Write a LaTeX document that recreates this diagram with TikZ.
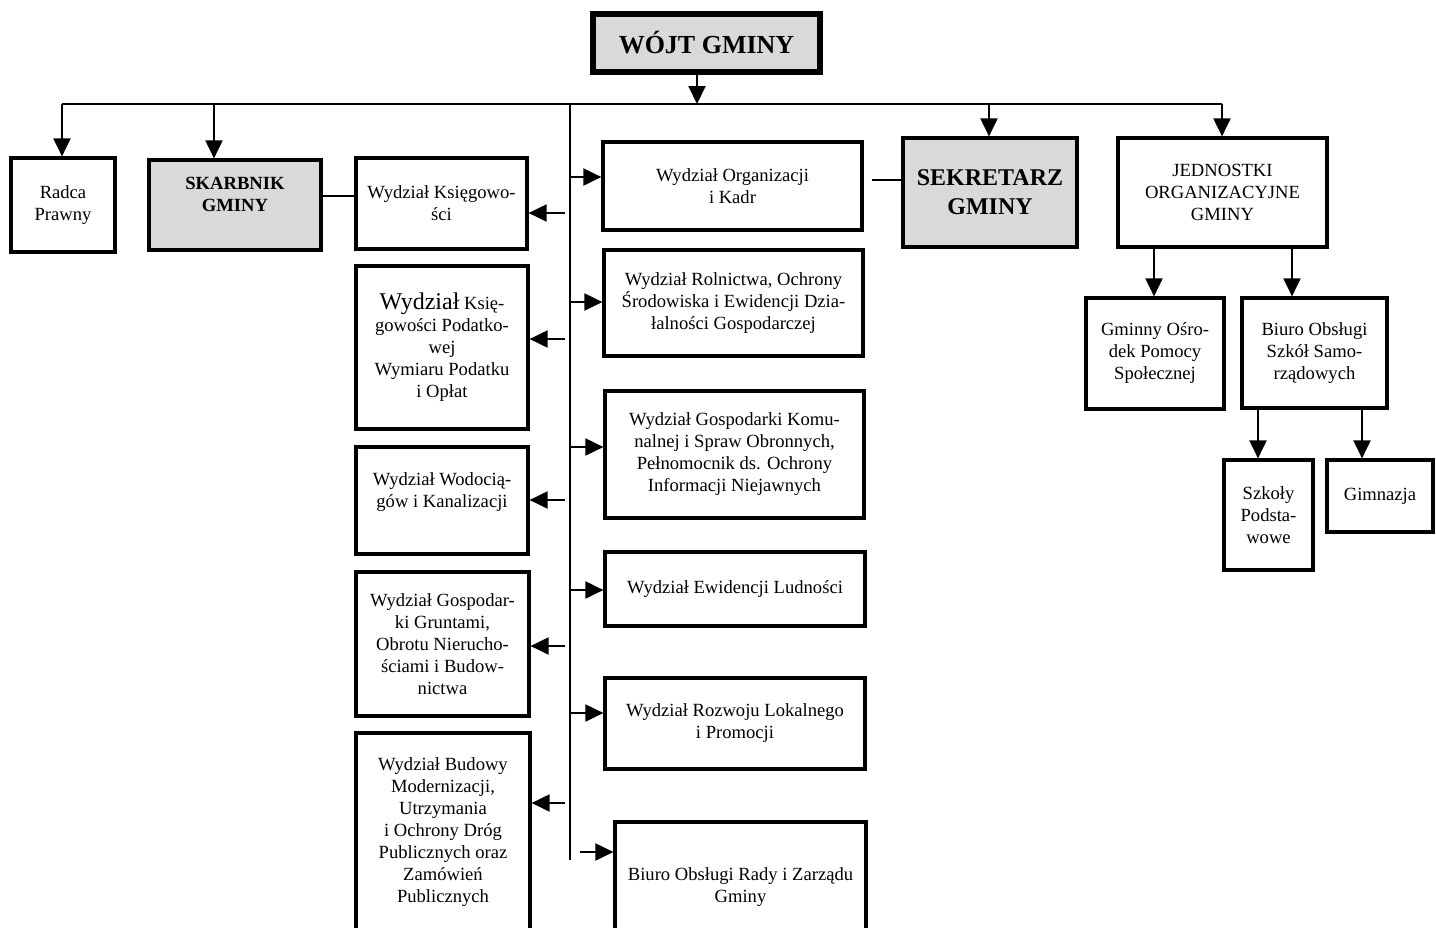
\documentclass[tikz,border=0pt]{standalone}
\usepackage{fontspec}
\setmainfont{Liberation Serif}
\usetikzlibrary{arrows.meta,calc}

\tikzset{
  box/.style={draw, line width=1.6pt, align=center, inner sep=2pt,
    font=\fontsize{9.3}{11}\selectfont},
  headbox/.style={box, fill=black!15},
  arr/.style={-{Triangle[length=9pt,width=8.5pt]}, line width=1pt},
  link/.style={line width=1pt}
}

\begin{document}
\begin{tikzpicture}[x=0.5pt,y=-0.5pt]

\path[fill=white, use as bounding box] (0,0) rectangle (1436,927);

% Head of the office
\node[headbox, line width=2.6pt, minimum width=113.5pt, minimum height=29pt,
  font=\fontsize{13}{15}\selectfont\bfseries] (wojt) at (706.5,43) {WÓJT GMINY};

% First row
\node[box, minimum width=52pt, minimum height=47pt] (radca) at (63,205) {Radca\\Prawny};
\node[headbox, minimum width=86pt, minimum height=45pt,
  font=\fontsize{9.3}{11}\selectfont\bfseries] (skarbnik) at (235,205) {SKARBNIK\\GMINY\\[-0.5pt]\mbox{}};
\node[headbox, minimum width=87pt, minimum height=54.5pt,
  font=\fontsize{12}{14.5}\selectfont\bfseries] (sekr) at (990,192.5) {SEKRETARZ\\GMINY};
\node[box, minimum width=104.5pt, minimum height=54.5pt] (jedn) at (1222.5,192.5)
  {JEDNOSTKI\\ORGANIZACYJNE\\GMINY};

% Left column (under the treasurer)
\node[box, minimum width=85.5pt, minimum height=45.5pt] (ksieg) at (441.5,203.5)
  {Wydział Księgowo-\\ści};
\node[box, minimum width=86pt, minimum height=81.5pt] (podat) at (442,347.5)
  {{\fontsize{12}{11}\selectfont Wydział} Księ-\\gowości Podatko-\\wej\\Wymiaru Podatku\\i Opłat};
\node[box, minimum width=86pt, minimum height=53.5pt] (wodo) at (442,500.5)
  {Wydział Wodocią-\\gów i Kanalizacji\\[-1pt]\mbox{}};
\node[box, minimum width=86.5pt, minimum height=72pt] (grunt) at (442.5,644)
  {Wydział Gospodar-\\ki Gruntami,\\Obrotu Nierucho-\\ściami i Budow-\\nictwa};
\node[box, minimum width=87pt, minimum height=99.5pt] (budowy) at (443,832.5)
  {Wydział Budowy\\Modernizacji,\\Utrzymania\\i Ochrony Dróg\\Publicznych oraz\\Zamówień\\Publicznych};

% Right column
\node[box, minimum width=129.5pt, minimum height=44pt] (org) at (732.5,186)
  {Wydział Organizacji\\i Kadr};
\node[box, minimum width=129.5pt, minimum height=53pt] (rol) at (733.5,303)
  {Wydział Rolnictwa, Ochrony\\Środowiska i Ewidencji Dzia-\\łalności Gospodarczej};
\node[box, minimum width=129.5pt, minimum height=63.5pt] (kom) at (734.5,454.5)
  {Wydział Gospodarki Komu-\\nalnej i Spraw Obronnych,\\Pełnomocnik ds. Ochrony\\Informacji Niejawnych};
\node[box, minimum width=130pt, minimum height=37pt] (ewid) at (735,589)
  {Wydział Ewidencji Ludności};
\node[box, minimum width=130pt, minimum height=45.5pt] (rozw) at (735,723.5)
  {Wydział Rozwoju Lokalnego\\i Promocji};
\node[box, minimum width=125.5pt, minimum height=65pt] (rady) at (740.5,887)
  {Biuro Obsługi Rady i Zarządu\\Gminy};

% Units of the commune
\node[box, minimum width=69pt, minimum height=55.5pt] (gops) at (1155,353.5)
  {Gminny Ośro-\\dek Pomocy\\Społecznej};
\node[box, minimum width=72.5pt, minimum height=55pt] (bosz) at (1314.5,353)
  {Biuro Obsługi\\Szkół Samo-\\rządowych};
\node[box, minimum width=44.5pt, minimum height=55pt] (szk) at (1268.5,515)
  {Szkoły\\Podsta-\\wowe};
\node[box, minimum width=53pt, minimum height=36pt] (gimn) at (1380,496) {Gimnazja};

% Bus under the head
\coordinate (bl) at (62,104);
\coordinate (br) at (1222,104);
\coordinate (wj) at (697,104);
\coordinate (bs) at (214,104);
\coordinate (bk) at (989,104);
\draw[link] (bl) -- (br);
\draw[arr] ($(wojt.south)+(-9.5,0)$) -- (wj);
\draw[arr] (bl) -- (bl |- radca.north);
\draw[arr] (bs) -- (bs |- skarbnik.north);
\draw[arr] (bk) -- (bk |- sekr.north);
\draw[arr] (br) -- (br |- jedn.north);

% Main spine
\coordinate (sp1) at (570,104);
\coordinate (sp2) at (570,860);
\draw[link] (sp1) -- (sp2);

\foreach \n/\y in {org/177,rol/302,kom/447,ewid/590,rozw/713}{
  \coordinate (s) at (570,\y);
  \draw[arr] (s) -- (s -| \n.west);
}
\coordinate (s) at (580,852);
\draw[arr] (s) -- (s -| rady.west);

\foreach \n/\y in {ksieg/213,podat/339,wodo/500,grunt/646,budowy/803}{
  \coordinate (t) at (565,\y);
  \draw[arr] (t) -- (t -| \n.east);
}

% Side links
\draw[link] ($(skarbnik.east)+(0,-9)$) -- ($(ksieg.west)+(0,-7.5)$);
\draw[link] ($(org.east)+(8,-6)$) -- ($(sekr.west)+(0,-12.5)$);

% Units
\coordinate (j1) at ($(jedn.south)+(-68.5,0)$);
\coordinate (j2) at ($(jedn.south)+(69.5,0)$);
\draw[arr] (j1) -- (j1 |- gops.north);
\draw[arr] (j2) -- (j2 |- bosz.north);
\coordinate (b1) at ($(bosz.south)+(-56.5,0)$);
\coordinate (b2) at ($(bosz.south)+(47.5,0)$);
\draw[arr] (b1) -- (b1 |- szk.north);
\draw[arr] (b2) -- (b2 |- gimn.north);

\end{tikzpicture}
\end{document}
